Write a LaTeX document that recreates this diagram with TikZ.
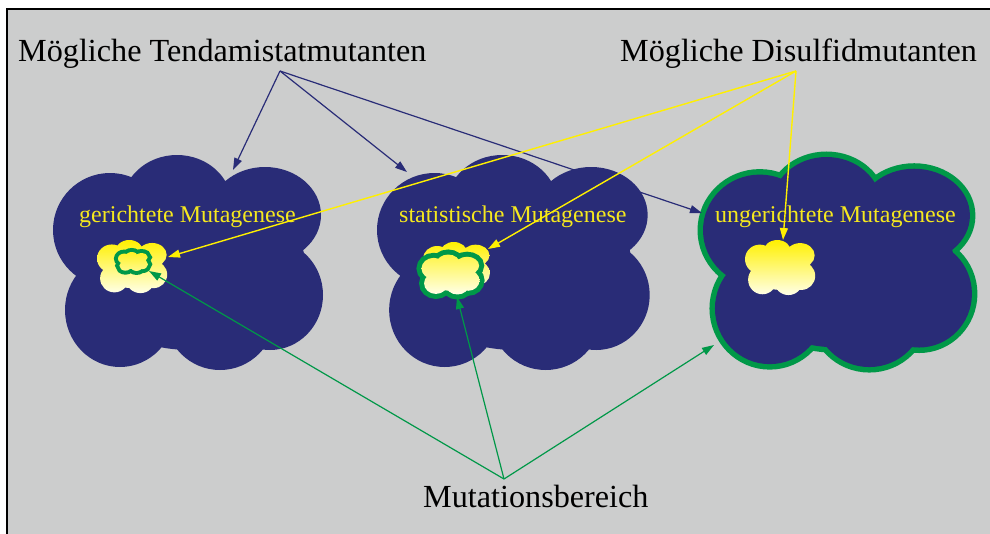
\documentclass[tikz,border=0pt]{standalone}
\usepackage{fontspec}
\setmainfont{Liberation Serif}
\usetikzlibrary{arrows.meta}
\definecolor{bggray}{RGB}{204,205,205}
\definecolor{navy}{RGB}{41,44,119}
\definecolor{cgreen}{RGB}{0,152,72}
\definecolor{cyellow}{RGB}{255,240,0}
\definecolor{lyellow}{RGB}{245,232,30}
\definecolor{pyellow}{RGB}{255,255,232}
\def\cloudshape{(57,75) ellipse [x radius=57, y radius=57]
 (124,50) ellipse [x radius=55, y radius=50]
 (212,60) ellipse [x radius=56, y radius=48]
 (217,140) ellipse [x radius=53, y radius=55]
 (167,160) ellipse [x radius=55, y radius=55]
 (67,155) ellipse [x radius=55, y radius=57]
 (137,110) ellipse [x radius=115, y radius=85]}
\tikzset{
  bigtext/.style={font=\fontsize{32.2}{38}\selectfont, text=black, inner sep=0pt, anchor=base west},
  cloudtext/.style={font=\fontsize{24}{28}\selectfont, text=lyellow, inner sep=0pt, anchor=base west},
  navyarrow/.style={draw=navy, line width=1.2pt, -{Triangle[length=12pt,width=8pt]}},
  yelarrow/.style={draw=cyellow, line width=1.4pt, -{Triangle[length=12pt,width=8pt]}},
  grnarrow/.style={draw=cgreen, line width=1.2pt, -{Triangle[length=12pt,width=8pt]}},
  yshade/.style={top color=cyellow, bottom color=pyellow}
}
\begin{document}
\begin{tikzpicture}[x=1pt,y=-1pt]
\useasboundingbox (0,0) rectangle (990,533);
\fill[white] (0,0) rectangle (990,533);
\draw[fill=bggray, draw=black, line width=1.5pt] (7,9) rectangle (995,540);

% big clouds
\begin{scope}[shift={(53,155)}]
  \fill[navy] \cloudshape;
\end{scope}
\begin{scope}[shift={(377,155)}, xscale=1.01]
  \fill[navy] \cloudshape;
\end{scope}
\begin{scope}[shift={(703,157)}, xscale=0.996, yscale=0.977]
  \draw[cgreen, line width=11pt] \cloudshape;
  \fill[navy] \cloudshape;
\end{scope}

% small clouds, cloud 1
\begin{scope}[shift={(97,240)}, xscale=0.26, yscale=0.247]
  \clip \cloudshape;
  \shade[yshade] (0,0) rectangle (270,215);
\end{scope}
\begin{scope}[shift={(118,252)}, xscale=0.111, yscale=0.088]
  \draw[cgreen, line width=8pt] \cloudshape;
\end{scope}
\begin{scope}[shift={(118,252)}, xscale=0.111, yscale=0.088]
  \clip \cloudshape;
  \shade[top color=cyellow!85!pyellow, bottom color=cyellow!40!pyellow] (0,0) rectangle (270,215);
\end{scope}

% small clouds, cloud 2
\begin{scope}[shift={(423,242)}, xscale=0.248, yscale=0.223]
  \clip \cloudshape;
  \shade[yshade] (0,0) rectangle (270,215);
\end{scope}
\begin{scope}[shift={(421.5,254.5)}, xscale=0.215, yscale=0.186]
  \draw[cgreen, line width=10pt] \cloudshape;
\end{scope}
\begin{scope}[shift={(421.5,254.5)}, xscale=0.215, yscale=0.186]
  \clip \cloudshape;
  \shade[top color=cyellow!70!pyellow, bottom color=pyellow] (0,0) rectangle (270,215);
\end{scope}

% small cloud, cloud 3
\begin{scope}[shift={(745,240)}, xscale=0.26, yscale=0.256]
  \clip \cloudshape;
  \shade[yshade] (0,0) rectangle (270,215);
\end{scope}

% texts
\node[bigtext] (tend) at (18,61) {Mögliche Tendamistatmutanten};
\node[bigtext] (disu) at (620,61) {Mögliche Disulfidmutanten};
\node[bigtext] (mutb) at (423,507) {Mutationsbereich};
\node[cloudtext] (l1) at (79,222) {gerichtete Mutagenese};
\node[cloudtext] (l2) at (399,222) {statistische Mutagenese};
\node[cloudtext] (l3) at (715,222) {ungerichtete Mutagenese};

% connector points
\coordinate (T) at (280,71);
\coordinate (D) at (796,71);
\coordinate (M) at (504,479);
\coordinate (c1top) at (233,170);
\coordinate (c2top) at (407,172);
\coordinate (c3left) at (702,213);
\coordinate (s1y) at (168,257);
\coordinate (s2y) at (488,249);
\coordinate (s3y) at (783,240);
\coordinate (s1g) at (149,271);
\coordinate (s2g) at (457,297);
\coordinate (c3low) at (714,345);

\draw[navyarrow] (T) -- (c1top);
\draw[navyarrow] (T) -- (c2top);
\draw[navyarrow] (T) -- (c3left);
\draw[yelarrow] (D) -- (s1y);
\draw[yelarrow] (D) -- (s2y);
\draw[yelarrow] (D) -- (s3y);
\draw[grnarrow] (M) -- (s1g);
\draw[grnarrow] (M) -- (s2g);
\draw[grnarrow] (M) -- (c3low);
\end{tikzpicture}
\end{document}
